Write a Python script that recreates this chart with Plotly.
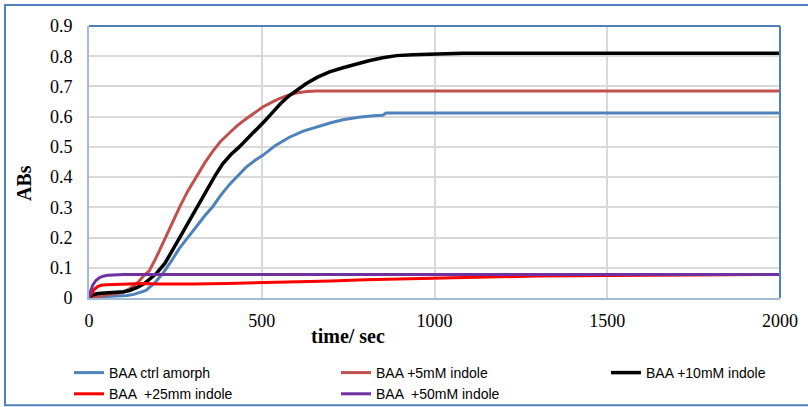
import plotly.graph_objects as go

# ---------------- data ----------------
t_ctrl = [0, 20, 50, 80, 110, 130, 150, 165, 190, 213, 240, 262, 286, 310, 335, 358, 380, 406, 426, 455,
          480, 503, 540, 580, 620, 657, 700, 735, 780, 831, 850, 860, 900, 1000, 1200, 1500, 1800, 2000]
v_ctrl = [0, 0.004, 0.005, 0.006, 0.008, 0.012, 0.018, 0.025, 0.05, 0.08, 0.125, 0.165, 0.2, 0.237, 0.272,
          0.302, 0.338, 0.375, 0.4, 0.433, 0.455, 0.472, 0.505, 0.532, 0.552, 0.566, 0.58, 0.59, 0.598, 0.604,
          0.605, 0.612, 0.612, 0.612, 0.612, 0.612, 0.612, 0.612]

t_5mm = [0, 20, 50, 80, 100, 117, 140, 160, 175, 195, 213, 240, 262, 285, 310, 335, 358, 380, 406, 430,
         455, 480, 503, 530, 551, 575, 600, 630, 657, 700, 800, 1000, 1500, 2000]
v_5mm = [0, 0.005, 0.01, 0.015, 0.02, 0.03, 0.05, 0.075, 0.091, 0.135, 0.18, 0.245, 0.30, 0.352, 0.40,
         0.447, 0.485, 0.517, 0.546, 0.571, 0.593, 0.614, 0.632, 0.648, 0.66, 0.67, 0.678, 0.683, 0.685,
         0.685, 0.685, 0.685, 0.685, 0.685]

t_10mm = [0, 10, 25, 50, 80, 100, 117, 140, 160, 194, 220, 242, 265, 291, 315, 339, 365, 387, 410, 435,
          460, 484, 508, 532, 556, 580, 604, 628, 660, 696, 735, 773, 810, 850, 890, 937, 1000, 1082, 1200,
          1500, 2000]
v_10mm = [0, 0.01, 0.015, 0.017, 0.019, 0.021, 0.025, 0.035, 0.048, 0.08, 0.115, 0.157, 0.205, 0.257,
          0.305, 0.356, 0.405, 0.444, 0.474, 0.50, 0.528, 0.555, 0.585, 0.615, 0.645, 0.67, 0.69, 0.709,
          0.73, 0.748, 0.762, 0.775, 0.785, 0.795, 0.802, 0.805, 0.807, 0.81, 0.81, 0.81, 0.81]

t_25mm = [0, 8, 15, 25, 35, 50, 80, 120, 160, 200, 250, 300, 400, 500, 600, 700, 800, 900, 1000, 1100,
          1200, 1300, 1400, 1500, 1600, 1800, 2000]
v_25mm = [0, 0.015, 0.028, 0.038, 0.042, 0.044, 0.045, 0.047, 0.048, 0.046, 0.045, 0.046, 0.048, 0.05,
          0.053, 0.056, 0.06, 0.063, 0.066, 0.069, 0.071, 0.073, 0.074, 0.075, 0.076, 0.077, 0.078]

t_50mm = [0, 5, 12, 20, 30, 40, 55, 75, 100, 150, 300, 600, 1000, 1500, 2000]
v_50mm = [0, 0.025, 0.045, 0.058, 0.067, 0.072, 0.075, 0.077, 0.078, 0.078, 0.078, 0.078, 0.078, 0.078, 0.078]

names = ["BAA ctrl amorph", "BAA +5mM indole", "BAA +10mM indole", "BAA  +25mm indole", "BAA  +50mM indole"]
colors = ["#4F81BD", "#C0504D", "#000000", "#FF0000", "#7030A0"]

x_ticks = [0, 500, 1000, 1500, 2000]
x_ticktext = ["0", "500", "1000", "1500", "2000"]
y_ticks = [0, 0.1, 0.2, 0.3, 0.4, 0.5, 0.6, 0.7, 0.8, 0.9]
y_ticktext = ["0", "0.1", "0.2", "0.3", "0.4", "0.5", "0.6", "0.7", "0.8", "0.9"]

series = [(t_ctrl, v_ctrl), (t_5mm, v_5mm), (t_10mm, v_10mm), (t_25mm, v_25mm), (t_50mm, v_50mm)]
widths = [3, 3, 3.5, 3, 3]
# legend columns: col1 = ctrl / 25mm, col2 = 5mM / 50mM, col3 = 10mM
legends = ["legend", "legend2", "legend3", "legend", "legend2"]

fig = go.Figure()
for (tx, vy), nm, col, w, lg in zip(series, names, colors, widths, legends):
    fig.add_trace(go.Scatter(x=tx, y=vy, mode="lines", name=nm, legend=lg,
                             line=dict(color=col, width=w)))

serif = "Liberation Serif, Times New Roman, serif"
sans = "Liberation Sans, Arial, sans-serif"

legend_common = dict(orientation="v", xref="container", yref="container", xanchor="left", yanchor="top",
                     font=dict(family=sans, size=14, color="#000000"), bgcolor="rgba(0,0,0,0)",
                     itemwidth=30, traceorder="normal", tracegroupgap=0)
leg_top = 1 - 357 / 407

fig.update_layout(
    width=808, height=407,
    margin=dict(l=89, r=28, t=26, b=109, autoexpand=False),
    paper_bgcolor="white", plot_bgcolor="white",
    showlegend=True,
    legend=dict(x=69 / 808, y=leg_top, **legend_common),
    legend2=dict(x=336 / 808, y=leg_top, **legend_common),
    legend3=dict(x=606 / 808, y=leg_top, **legend_common),
    xaxis=dict(range=[0, 2000], tickvals=x_ticks, ticktext=x_ticktext,
               showgrid=True, gridcolor="#D9D9D9", gridwidth=1.5,
               showline=True, linecolor="#A6B9D6", linewidth=2, ticks="",
               ticklabelstandoff=5, zeroline=False, automargin=False,
               tickfont=dict(family=serif, size=18, color="#000000")),
    yaxis=dict(range=[0, 0.9], tickvals=y_ticks, ticktext=y_ticktext,
               showgrid=True, gridcolor="#D9D9D9", gridwidth=1.5,
               showline=True, linecolor="#A6B9D6", linewidth=2, ticks="",
               ticklabelstandoff=11, zeroline=False, automargin=False,
               tickfont=dict(family=serif, size=18, color="#000000")),
    shapes=[
        dict(type="rect", xref="paper", yref="paper", x0=-0.1216, x1=1.06, y0=-0.394, y1=1.077,
             line=dict(color="#4F81BD", width=2), fillcolor="rgba(0,0,0,0)", layer="below"),
        dict(type="line", xref="paper", yref="paper", x0=0, x1=1, y0=1, y1=1,
             line=dict(color="#4F81BD", width=2)),
        dict(type="line", xref="paper", yref="paper", x0=1, x1=1, y0=0, y1=1,
             line=dict(color="#4F81BD", width=2)),
    ],
    annotations=[
        dict(text="<b>ABs</b>", xref="paper", yref="paper", x=(24 - 89) / 691, y=(298 - 183) / 272,
             textangle=-90, showarrow=False, xanchor="center", yanchor="middle",
             font=dict(family=serif, size=20, color="#000000")),
        dict(text="<b>time/ sec</b>", xref="paper", yref="paper", x=(347.5 - 89) / 691, y=(298 - 336) / 272,
             showarrow=False, xanchor="center", yanchor="middle",
             font=dict(family=serif, size=20, color="#000000")),
    ],
)

fig.write_html("out.html")
